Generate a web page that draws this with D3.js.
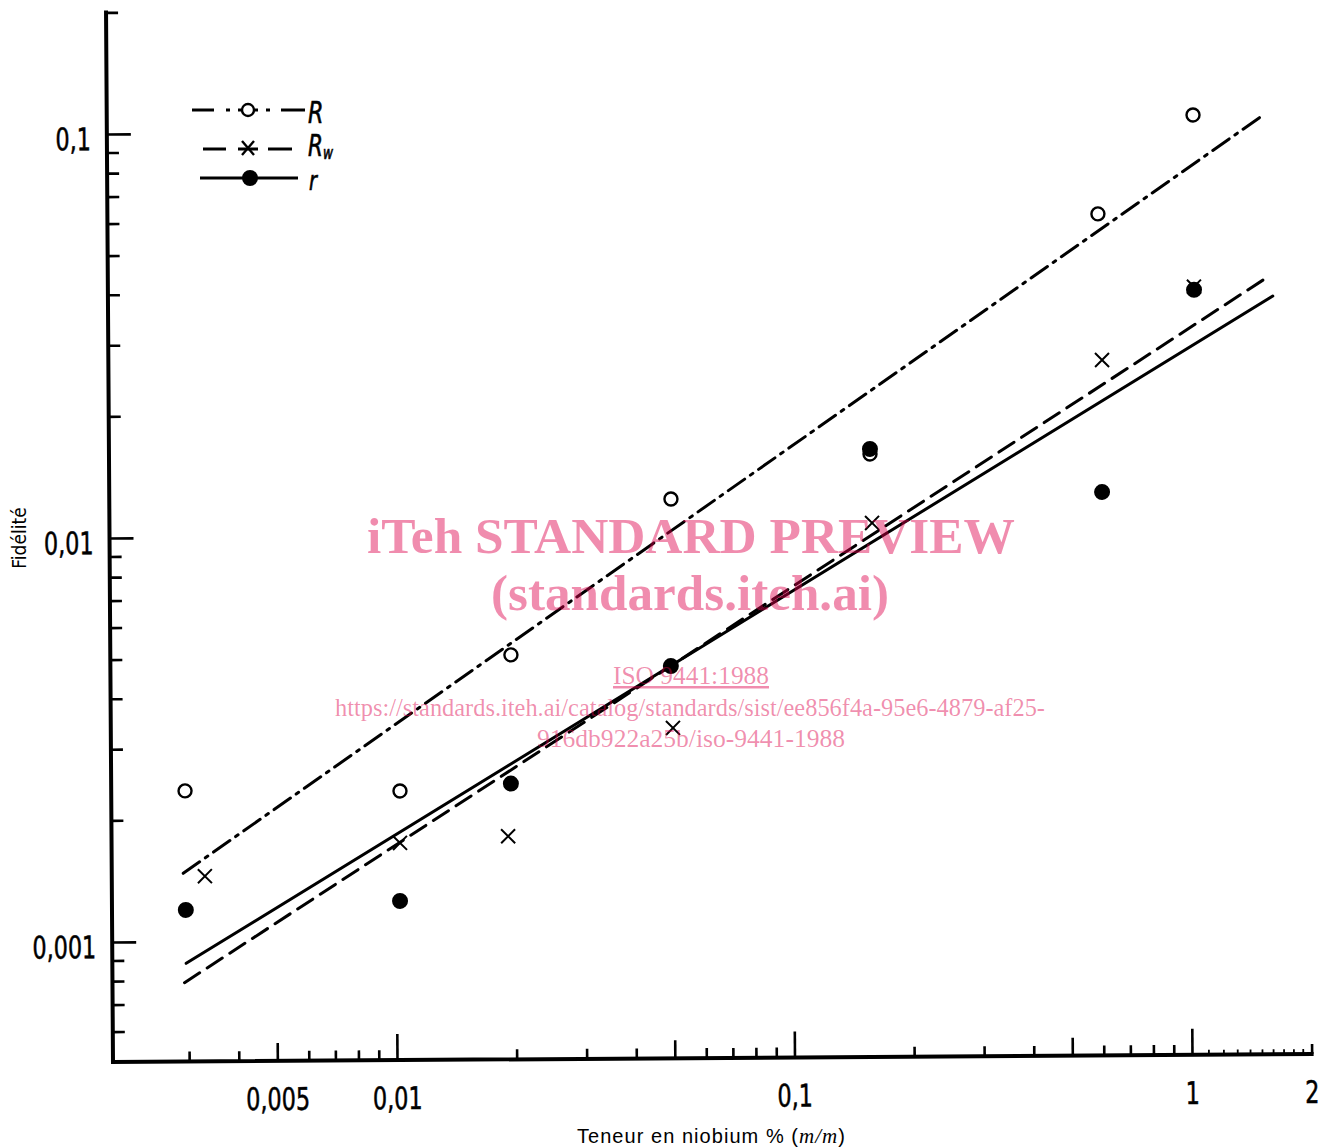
<!DOCTYPE html>
<html><head><meta charset="utf-8">
<script src="https://cdn.jsdelivr.net/npm/d3@7"></script>
<style>body{margin:0;background:#fff} svg{display:block}</style>
</head><body>
<svg id="c" width="1321" height="1148"></svg>
<script>
// ---- data ----
const xR  = [0.00296, 0.01028, 0.01965, 0.04995, 0.1585, 0.599, 1.043];
const yR  = [0.00236, 0.00234, 0.00506, 0.01223, 0.01569, 0.0611, 0.107];
const xRw = [0.00331, 0.01026, 0.0192, 0.0501, 0.160, 0.61, 1.042];
const yRw = [0.00145, 0.00174, 0.0018, 0.003316, 0.01059, 0.02657, 0.0402];
const xr  = [0.00296, 0.01024, 0.01955, 0.0496, 0.1585, 0.607, 1.042];
const yr  = [0.001197, 0.00125, 0.00243, 0.00472, 0.01614, 0.01252, 0.0395];
// regression lines (end points)
const lineRx  = [0.00292, 1.567], lineRy  = [0.001475, 0.1067];
const lineRwx = [0.00293, 1.603], lineRwy = [0.000791, 0.04246];
const linerx  = [0.00296, 1.644], linery  = [0.000883, 0.038];
// ticks
const xTickValues = [0.005, 0.01, 0.1, 1, 2];
const xTickLabels = ["0,005", "0,01", "0,1", "1", "2"];
const xMajor  = [0.01, 0.1, 1];
const xMedium = [0.005, 0.05, 0.5];
const xShort  = [0.003,0.004,0.006,0.007,0.008,0.009,0.02,0.03,0.04,0.06,0.07,0.08,0.09,0.2,0.3,0.4,0.6,0.7,0.8,0.9,2];
const xTiny   = [1.1,1.2,1.3,1.4,1.5,1.6,1.7,1.8,1.9];
const yTickValues = [0.1, 0.01, 0.001];
const yTickLabels = ["0,1", "0,01", "0,001"];
const yMinor = [0.0006,0.0007,0.0008,0.0009,0.002,0.003,0.004,0.005,0.006,0.007,0.008,0.009,
                0.02,0.03,0.04,0.05,0.06,0.07,0.08,0.09,0.2];
const legendLabels = ["R", "R", "r"];

// ---- layout ----
const svg = d3.select("#c");
const px = 113, py = 1062;           // bottom-left corner of the axes
const rot = -0.38;                    // slight tilt of the scanned figure
const x0 = d3.scaleLog().domain([0.01, 1]).range([284, 1079]);
const x  = d3.scaleLog().domain([x0.invert(0), 2]).range([0, x0(2)]);
const y0 = d3.scaleLog().domain([0.001, 0.1]).range([-120, -928]);
const y  = d3.scaleLog().domain([0.0005, 0.2]).range([y0(0.0005), y0(0.2)]);

const tickFont = "'DejaVu Sans Condensed','DejaVu Sans',sans-serif";
const sx = 0.8; // horizontal squeeze to mimic the narrow lettering

const outer = svg.append("g").attr("transform", `rotate(${rot},${px},${py})`);
const g = outer.append("g").attr("transform", `translate(${px},${py})`);

// axis lines
g.append("line").attr("x1", 0).attr("x2", x(2)).attr("y1", 0).attr("y2", 0)
  .attr("stroke", "#000").attr("stroke-width", 4).attr("stroke-linecap", "square");
g.append("line").attr("x1", 0).attr("x2", 0).attr("y1", 0).attr("y2", y(0.2))
  .attr("stroke", "#000").attr("stroke-width", 4).attr("stroke-linecap", "square");

function tickGroup(axisFn, scale, vals, size) {
  const a = axisFn(scale).tickValues(vals).tickSize(-size).tickFormat("");
  const gg = g.append("g").call(a);
  gg.select(".domain").remove();
  gg.selectAll(".tick line").attr("stroke", "#000").attr("stroke-width", 2.6);
  return gg;
}
tickGroup(d3.axisBottom, x, xMajor, 26);
tickGroup(d3.axisBottom, x, xMedium, 18);
tickGroup(d3.axisBottom, x, xShort, 10);
tickGroup(d3.axisBottom, x, xTiny, 5).selectAll(".tick line").attr("stroke-width", 1.8);
tickGroup(d3.axisLeft, y, yTickValues, 24);
tickGroup(d3.axisLeft, y, yMinor, 12);

// tick labels
const xl = g.append("g").call(d3.axisBottom(x).tickValues(xTickValues).tickSize(0).tickPadding(27)
  .tickFormat((d, i) => xTickLabels[i]));
xl.select(".domain").remove();
xl.selectAll("text").attr("font-family", tickFont).attr("font-size", 31).attr("fill", "#000")
  .attr("stroke", "#000").attr("stroke-width", 0.5)
  .attr("transform", `scale(${sx},1)`);

const yl = g.append("g").call(d3.axisLeft(y).tickValues(yTickValues).tickSize(0).tickPadding(16)
  .tickFormat((d, i) => yTickLabels[i]));
yl.select(".domain").remove();
yl.selectAll("text").attr("font-family", tickFont).attr("font-size", 31).attr("fill", "#000")
  .attr("stroke", "#000").attr("stroke-width", 0.5)
  .attr("dy", "0.5em").attr("x", -16 / sx).attr("transform", `scale(${sx},1)`);

// regression lines
const line = d3.line().x(d => x(d[0])).y(d => y(d[1]));
const zip = (a, b) => a.map((v, i) => [v, b[i]]);
g.append("path").datum(zip(lineRx, lineRy)).attr("d", line).attr("fill", "none")
  .attr("stroke", "#000").attr("stroke-width", 3).attr("stroke-dasharray", "20,7,3,7").attr("stroke-linecap", "round");
g.append("path").datum(zip(lineRwx, lineRwy)).attr("d", line).attr("fill", "none")
  .attr("stroke", "#000").attr("stroke-width", 3).attr("stroke-dasharray", "18,9").attr("stroke-linecap", "round");
g.append("path").datum(zip(linerx, linery)).attr("d", line).attr("fill", "none")
  .attr("stroke", "#000").attr("stroke-width", 3).attr("stroke-linecap", "round");

// markers
g.selectAll(".pR").data(zip(xR, yR)).join("circle")
  .attr("cx", d => x(d[0])).attr("cy", d => y(d[1])).attr("r", 6.5)
  .attr("fill", "#fff").attr("stroke", "#000").attr("stroke-width", 2.4);
g.selectAll(".pr").data(zip(xr, yr)).join("circle")
  .attr("cx", d => x(d[0])).attr("cy", d => y(d[1])).attr("r", 8).attr("fill", "#000");
g.selectAll(".pRw").data(zip(xRw, yRw)).join("path")
  .attr("transform", d => `translate(${x(d[0])},${y(d[1])})`)
  .attr("d", "M-7,-7L7,7M-7,7L7,-7")
  .attr("stroke", "#000").attr("stroke-width", 2).attr("fill", "none");

// ---- legend ----
const lg = svg.append("g").attr("stroke", "#000").attr("stroke-width", 3);
const seg = (x1, x2, yy) => lg.append("line").attr("x1", x1).attr("x2", x2).attr("y1", yy).attr("y2", yy);
// R : dash . o . dash
seg(192, 214, 110); seg(226, 230, 110); seg(238, 258, 110); seg(266, 270, 110); seg(281, 305, 110);
lg.append("circle").attr("cx", 248).attr("cy", 110).attr("r", 6).attr("fill", "#fff").attr("stroke-width", 2.4);
// Rw : dash x dash
seg(203, 226, 149); seg(238, 258, 149); seg(268, 292, 149);
lg.append("path").attr("transform", "translate(248,148)").attr("d", "M-6,-7L6,7M-6,7L6,-7")
  .attr("stroke-width", 2.4).attr("fill", "none");
// r : solid with dot
seg(200, 298, 178);
lg.append("circle").attr("cx", 250).attr("cy", 178).attr("r", 8).attr("fill", "#000").attr("stroke", "none");
// labels
const legFont = tickFont;
const lt = svg.append("g").attr("font-family", legFont).attr("font-style", "italic").attr("fill", "#000")
  .attr("stroke", "#000").attr("stroke-width", 0.6);
lt.append("text").attr("x", 308 / sx).attr("y", 123).attr("transform", `scale(${sx},1)`)
  .attr("font-size", 31).text(legendLabels[0]);
const t2 = lt.append("text").attr("x", 308 / sx).attr("y", 156).attr("transform", `scale(${sx},1)`).attr("font-size", 30);
t2.append("tspan").text(legendLabels[1]);
t2.append("tspan").text("w").attr("font-size", 17).attr("dy", 3);
lt.append("text").attr("x", 309 / sx).attr("y", 190).attr("transform", `scale(${sx},1)`)
  .attr("font-size", 27).text(legendLabels[2]);

// ---- axis titles ----
svg.append("text").attr("transform", "translate(26,538) rotate(-90)").attr("text-anchor", "middle")
  .attr("font-family", tickFont).attr("font-size", 19).text("Fidélité");
const xt = svg.append("text").attr("x", 711).attr("y", 1143).attr("text-anchor", "middle")
  .attr("font-family", "'Liberation Sans','Arial',sans-serif").attr("font-size", 20)
  .attr("textLength", 268).attr("lengthAdjust", "spacing");
xt.append("tspan").text("Teneur en niobium % (");
xt.append("tspan").text("m/m").attr("font-family", "'Liberation Serif',serif").attr("font-style", "italic").attr("font-size", 21);
xt.append("tspan").text(")");

// ---- watermark ----
const wm = svg.append("g").attr("fill", "rgb(222,0,75)").attr("fill-opacity", 0.45)
  .attr("font-family", "'Liberation Serif','Times New Roman',serif").attr("text-anchor", "middle");
wm.append("text").attr("x", 691).attr("y", 553).attr("font-size", 51).attr("font-weight", "bold")
  .attr("textLength", 648).attr("lengthAdjust", "spacingAndGlyphs").text("iTeh STANDARD PREVIEW");
wm.append("text").attr("x", 690).attr("y", 610).attr("font-size", 51).attr("font-weight", "bold")
  .attr("textLength", 398).attr("lengthAdjust", "spacingAndGlyphs").text("(standards.iteh.ai)");
wm.append("text").attr("x", 691).attr("y", 684).attr("font-size", 25).attr("text-decoration", "underline")
  .attr("textLength", 156).attr("lengthAdjust", "spacingAndGlyphs").text("ISO 9441:1988");
wm.append("text").attr("x", 690).attr("y", 716).attr("font-size", 25)
  .attr("textLength", 710).attr("lengthAdjust", "spacingAndGlyphs")
  .text("https://standards.iteh.ai/catalog/standards/sist/ee856f4a-95e6-4879-af25-");
wm.append("text").attr("x", 691).attr("y", 747).attr("font-size", 25)
  .attr("textLength", 308).attr("lengthAdjust", "spacingAndGlyphs").text("916db922a25b/iso-9441-1988");
</script>
</body></html>
